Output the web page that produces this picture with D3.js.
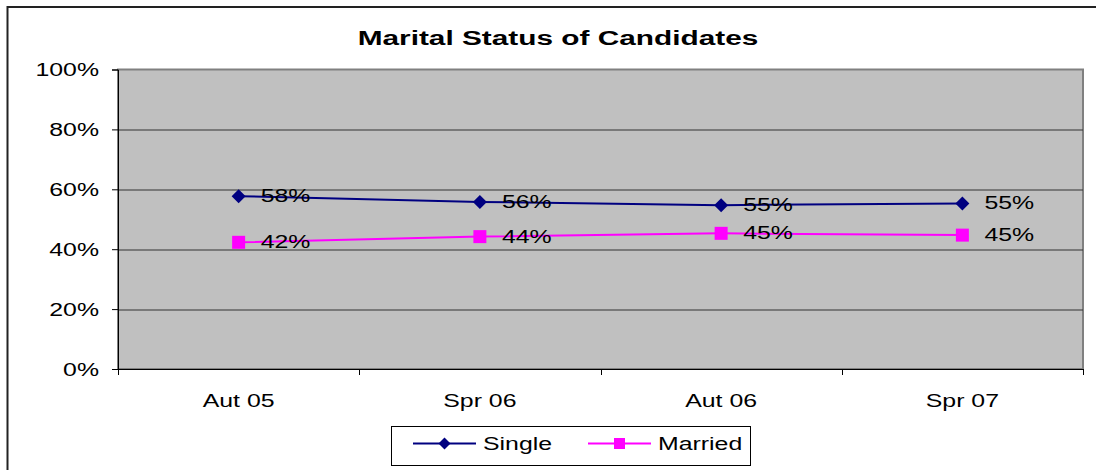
<!DOCTYPE html>
<html>
<head>
<meta charset="utf-8">
<script src="https://cdn.jsdelivr.net/npm/d3@7"></script>
<style>
  html, body { margin: 0; padding: 0; background: #fff; }
  svg { display: block; font-family: "Liberation Sans", Arial, sans-serif; }
</style>
</head>
<body>
<svg id="chart" width="1096" height="470"></svg>
<script>
// Data
var categories = ["Aut 05", "Spr 06", "Aut 06", "Spr 07"];
var single = [0.577, 0.558, 0.547, 0.553];
var married = [0.423, 0.442, 0.453, 0.447];
var yTicks = [0, 0.2, 0.4, 0.6, 0.8, 1.0];

var series = [
    {name: "Single", values: single, color: "#000080", marker: "diamond"},
    {name: "Married", values: married, color: "#ff00ff", marker: "square"}
];

// text in the picture is stretched horizontally
var sx = 1.42;

var svg = d3.select("#chart");
var margin = {top: 69.5, left: 118, right: 13, bottom: 101};
var width = 1096 - margin.left - margin.right;
var height = 470 - margin.top - margin.bottom;

// Outer frame (cut off at right and bottom)
svg.append("rect")
    .attr("x", 7.5).attr("y", 7)
    .attr("width", 1200).attr("height", 600)
    .attr("fill", "none")
    .attr("stroke", "#222")
    .attr("stroke-width", 2);

function stretchedText(parent, x, y, str, anchor) {
    return parent.append("text")
        .attr("transform", "translate(" + x + "," + y + ") scale(" + sx + ",1)")
        .attr("text-anchor", anchor || "start")
        .attr("fill", "#000")
        .text(str);
}

// Title
stretchedText(svg, 558, 45, "Marital Status of Candidates", "middle")
    .style("font-size", "21px")
    .style("font-weight", "bold");

var g = svg.append("g").attr("transform", "translate(" + margin.left + "," + margin.top + ")");

var x = d3.scaleBand().domain(categories).range([0, width]);
var y = d3.scaleLinear().domain([0, 1]).range([height, 0]);

// Plot area
g.append("rect")
    .attr("width", width).attr("height", height)
    .attr("fill", "#c0c0c0")
    .attr("stroke", "#808080")
    .attr("stroke-width", 2);

// Gridlines
g.selectAll(".grid")
    .data(yTicks.filter(d => d > 0 && d < 1))
    .enter().append("line")
    .attr("x1", 0).attr("x2", width)
    .attr("y1", d => Math.round(y(d)) + 0.5)
    .attr("y2", d => Math.round(y(d)) + 0.5)
    .attr("stroke", "#333")
    .attr("stroke-width", 1);

// Y axis
var yAxis = g.append("g")
    .call(d3.axisLeft(y).tickValues(yTicks).tickSize(6).tickFormat(d3.format(".0%")));
yAxis.select(".domain").attr("stroke", "#000");
yAxis.selectAll(".tick line").attr("stroke", "#000");
yAxis.selectAll(".tick text").remove();
yAxis.selectAll(".tick").each(function(d) {
    stretchedText(d3.select(this), -19, 6, d3.format(".0%")(d), "end")
        .style("font-size", "17.5px");
});

// X axis
var xAxis = g.append("g")
    .attr("transform", "translate(0," + height + ")")
    .call(d3.axisBottom(x).tickSize(0).tickFormat(""));
xAxis.select(".domain").attr("stroke", "#000");
xAxis.selectAll(".tick").remove();

// band boundary ticks
var bounds = categories.map(c => x(c)).concat([width]);
xAxis.selectAll(".btick")
    .data(bounds)
    .enter().append("line")
    .attr("x1", d => Math.round(d) + 0.5).attr("x2", d => Math.round(d) + 0.5)
    .attr("y1", 0).attr("y2", 6)
    .attr("stroke", "#000");

categories.forEach(function(c) {
    stretchedText(xAxis, x(c) + x.bandwidth() / 2, 38, c, "middle")
        .style("font-size", "17.5px");
});

// Lines and markers
var line = d3.line()
    .x((d, i) => x(categories[i]) + x.bandwidth() / 2)
    .y(d => y(d));

function drawMarker(sel, type, color, cx, cy, s) {
    if (type === "diamond") {
        sel.append("path")
            .attr("d", "M" + cx + "," + (cy - s) + "L" + (cx + s) + "," + cy + "L" + cx + "," + (cy + s) + "L" + (cx - s) + "," + cy + "Z")
            .attr("fill", color);
    } else {
        sel.append("rect")
            .attr("x", cx - s + 0.5).attr("y", cy - s + 0.5)
            .attr("width", 2 * s - 1).attr("height", 2 * s - 1)
            .attr("fill", color);
    }
}

series.forEach(function(s) {
    g.append("path")
        .datum(s.values)
        .attr("d", line)
        .attr("fill", "none")
        .attr("stroke", s.color)
        .attr("stroke-width", 2);

    s.values.forEach(function(v, i) {
        var cx = x(categories[i]) + x.bandwidth() / 2;
        var cy = y(v);
        drawMarker(g, s.marker, s.color, cx, cy, 7);
        stretchedText(g, cx + 22, cy + 6, d3.format(".0%")(v), "start")
            .style("font-size", "17.5px");
    });
});

// Legend
var legend = svg.append("g").attr("transform", "translate(391,426)");
legend.append("rect")
    .attr("x", 0.5).attr("y", 0.5)
    .attr("width", 359).attr("height", 39)
    .attr("fill", "#fff")
    .attr("stroke", "#000");

var legendX = [22, 197];
series.forEach(function(s, i) {
    var lx = legendX[i];
    legend.append("line")
        .attr("x1", lx).attr("x2", lx + 63)
        .attr("y1", 17.5).attr("y2", 17.5)
        .attr("stroke", s.color)
        .attr("stroke-width", 2);
    drawMarker(legend, s.marker, s.color, lx + 31.5, 17.5, 6);
    stretchedText(legend, lx + 70, 24, s.name, "start")
        .style("font-size", "17.5px");
});
</script>
</body>
</html>
